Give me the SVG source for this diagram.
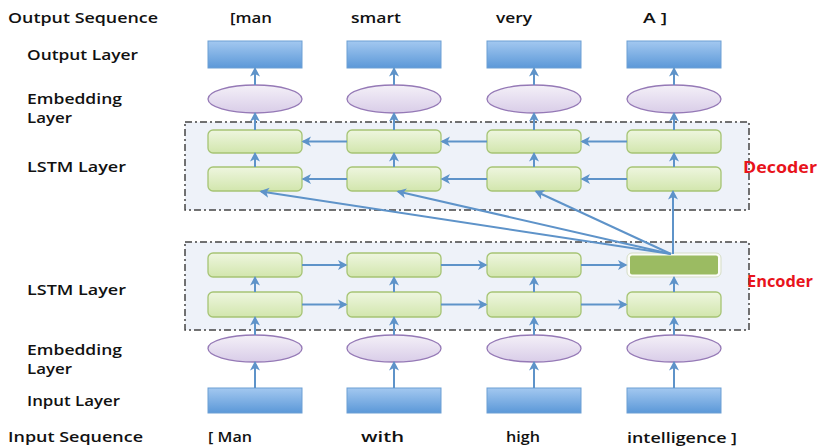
<svg xmlns="http://www.w3.org/2000/svg" width="817" height="446" viewBox="0 0 817 446">
<defs>
<linearGradient id="gBlue" x1="0" y1="0" x2="0" y2="1"><stop offset="0" stop-color="#a3c8f0"/><stop offset="1" stop-color="#5b98d8"/></linearGradient>
<linearGradient id="gPurple" x1="0" y1="0" x2="0" y2="1"><stop offset="0" stop-color="#f4f0f8"/><stop offset="1" stop-color="#d9cde8"/></linearGradient>
<linearGradient id="gGreen" x1="0" y1="0" x2="0" y2="1"><stop offset="0" stop-color="#eef6df"/><stop offset="1" stop-color="#d2e6ad"/></linearGradient>
<marker id="ah" markerUnits="userSpaceOnUse" markerWidth="11" markerHeight="11" refX="8" refY="5.5" orient="auto"><path d="M0,0.5 L9.5,5.5 L0,10.5 L2.5,5.5 z" fill="#5e93c9"/></marker>
<style>
.io{fill:url(#gBlue);stroke:#6c9fd4;stroke-width:1}
.emb{fill:url(#gPurple);stroke:#9579b6;stroke-width:1.3}
.lstm{fill:url(#gGreen);stroke:#a6c474;stroke-width:1.3}
.ctr{fill:#eef2f9;stroke:#444;stroke-width:1.5;stroke-dasharray:7,3,2,3}
.lbl{font-family:"Open Sans","DejaVu Sans",sans-serif;font-weight:600;font-size:15px;fill:#111}
.red{font-family:"Open Sans","DejaVu Sans",sans-serif;font-weight:700;font-size:15.5px;fill:#e8141c}
.c line{stroke:#5e93c9;stroke-width:2;marker-end:url(#ah)}
</style>
</defs>
<rect width="817" height="446" fill="#fff"/>
<g id="decoder-box"><rect class="ctr" x="185" y="122" width="564" height="88"/></g>
<g id="encoder-box"><rect class="ctr" x="185" y="242" width="564" height="88"/></g>

<g id="labels">
<text class="lbl" x="8" y="23" textLength="150" lengthAdjust="spacingAndGlyphs">Output Sequence</text>
<text class="lbl" x="27" y="60" textLength="111" lengthAdjust="spacingAndGlyphs">Output Layer</text>
<text class="lbl" x="27" y="104" textLength="95" lengthAdjust="spacingAndGlyphs">Embedding</text>
<text class="lbl" x="27" y="123" textLength="45" lengthAdjust="spacingAndGlyphs">Layer</text>
<text class="lbl" x="27" y="172" textLength="99" lengthAdjust="spacingAndGlyphs">LSTM Layer</text>
<text class="lbl" x="27" y="295" textLength="99" lengthAdjust="spacingAndGlyphs">LSTM Layer</text>
<text class="lbl" x="27" y="355" textLength="95" lengthAdjust="spacingAndGlyphs">Embedding</text>
<text class="lbl" x="27" y="374" textLength="45" lengthAdjust="spacingAndGlyphs">Layer</text>
<text class="lbl" x="27" y="406" textLength="93" lengthAdjust="spacingAndGlyphs">Input Layer</text>
<text class="lbl" x="8" y="442" textLength="135" lengthAdjust="spacingAndGlyphs">Input Sequence</text>
<text class="lbl" x="230" y="23" textLength="42" lengthAdjust="spacingAndGlyphs">[man</text>
<text class="lbl" x="351" y="23" textLength="50" lengthAdjust="spacingAndGlyphs">smart</text>
<text class="lbl" x="496" y="23" textLength="36" lengthAdjust="spacingAndGlyphs">very</text>
<text class="lbl" x="643" y="23" textLength="24" lengthAdjust="spacingAndGlyphs">A ]</text>
<text class="lbl" x="208" y="442" textLength="44" lengthAdjust="spacingAndGlyphs">[ Man</text>
<text class="lbl" x="361" y="442" textLength="43" lengthAdjust="spacingAndGlyphs">with</text>
<text class="lbl" x="506" y="442" textLength="34" lengthAdjust="spacingAndGlyphs">high</text>
<text class="lbl" x="627" y="442.5" textLength="110" lengthAdjust="spacingAndGlyphs">intelligence ]</text>
<text class="red" x="743" y="173" textLength="74" lengthAdjust="spacingAndGlyphs">Decoder</text>
<text class="red" x="747" y="287" textLength="66" lengthAdjust="spacingAndGlyphs">Encoder</text>
</g>

<g id="out1"><rect class="io" x="208" y="41" width="94" height="27"/></g>
<g id="out2"><rect class="io" x="347" y="41" width="94" height="27"/></g>
<g id="out3"><rect class="io" x="487" y="41" width="94" height="27"/></g>
<g id="out4"><rect class="io" x="627" y="41" width="94" height="27"/></g>

<g id="oemb1"><ellipse class="emb" cx="255" cy="99" rx="47" ry="14"/></g>
<g id="oemb2"><ellipse class="emb" cx="394" cy="99" rx="47" ry="14"/></g>
<g id="oemb3"><ellipse class="emb" cx="534" cy="99" rx="47" ry="14"/></g>
<g id="oemb4"><ellipse class="emb" cx="674" cy="99" rx="47" ry="14"/></g>

<g id="d11"><rect class="lstm" x="208" y="130" width="94" height="23" rx="5"/></g>
<g id="d12"><rect class="lstm" x="347" y="130" width="94" height="23" rx="5"/></g>
<g id="d13"><rect class="lstm" x="487" y="130" width="94" height="23" rx="5"/></g>
<g id="d14"><rect class="lstm" x="627" y="130" width="94" height="23" rx="5"/></g>
<g id="d21"><rect class="lstm" x="208" y="167" width="94" height="24" rx="5"/></g>
<g id="d22"><rect class="lstm" x="347" y="167" width="94" height="24" rx="5"/></g>
<g id="d23"><rect class="lstm" x="487" y="167" width="94" height="24" rx="5"/></g>
<g id="d24"><rect class="lstm" x="627" y="167" width="94" height="24" rx="5"/></g>

<g id="e11"><rect class="lstm" x="208" y="253" width="94" height="24" rx="5"/></g>
<g id="e12"><rect class="lstm" x="347" y="253" width="94" height="24" rx="5"/></g>
<g id="e13"><rect class="lstm" x="487" y="253" width="94" height="24" rx="5"/></g>
<g id="e14"><rect x="627" y="253" width="94" height="24" rx="5" fill="#fbfcf8" stroke="#d5ddc6" stroke-width="1"/><rect x="630" y="255.5" width="88" height="19" rx="2" fill="#9bbb62"/></g>
<g id="e21"><rect class="lstm" x="208" y="292" width="94" height="25" rx="5"/></g>
<g id="e22"><rect class="lstm" x="347" y="292" width="94" height="25" rx="5"/></g>
<g id="e23"><rect class="lstm" x="487" y="292" width="94" height="25" rx="5"/></g>
<g id="e24"><rect class="lstm" x="627" y="292" width="94" height="25" rx="5"/></g>

<g id="iemb1"><ellipse class="emb" cx="255" cy="348.5" rx="47" ry="13.5"/></g>
<g id="iemb2"><ellipse class="emb" cx="394" cy="348.5" rx="47" ry="13.5"/></g>
<g id="iemb3"><ellipse class="emb" cx="534" cy="348.5" rx="47" ry="13.5"/></g>
<g id="iemb4"><ellipse class="emb" cx="674" cy="348.5" rx="47" ry="13.5"/></g>

<g id="in1"><rect class="io" x="208" y="388" width="94" height="25"/></g>
<g id="in2"><rect class="io" x="347" y="388" width="94" height="25"/></g>
<g id="in3"><rect class="io" x="487" y="388" width="94" height="25"/></g>
<g id="in4"><rect class="io" x="627" y="388" width="94" height="25"/></g>

<g id="connectors" class="c">
<line x1="255" y1="85" x2="255" y2="68.5"/><line x1="394" y1="85" x2="394" y2="68.5"/><line x1="534" y1="85" x2="534" y2="68.5"/><line x1="674" y1="85" x2="674" y2="68.5"/>
<line x1="255" y1="130" x2="255" y2="113.5"/><line x1="394" y1="130" x2="394" y2="113.5"/><line x1="534" y1="130" x2="534" y2="113.5"/><line x1="674" y1="130" x2="674" y2="113.5"/>
<line x1="255" y1="167" x2="255" y2="153.5"/><line x1="394" y1="167" x2="394" y2="153.5"/><line x1="534" y1="167" x2="534" y2="153.5"/><line x1="674" y1="167" x2="674" y2="153.5"/>
<line x1="347" y1="141.5" x2="303" y2="141.5"/><line x1="487" y1="141.5" x2="442" y2="141.5"/><line x1="627" y1="141.5" x2="582" y2="141.5"/>
<line x1="347" y1="179" x2="303" y2="179"/><line x1="487" y1="179" x2="442" y2="179"/><line x1="627" y1="179" x2="582" y2="179"/>
<line x1="673" y1="254" x2="673" y2="191.5"/>
<line x1="671" y1="254" x2="261" y2="191.5"/>
<line x1="671" y1="254" x2="398" y2="191.5"/>
<line x1="671" y1="254" x2="536" y2="191.5"/>
<line x1="302" y1="265" x2="346" y2="265"/><line x1="441" y1="265" x2="486" y2="265"/><line x1="581" y1="265" x2="626" y2="265"/>
<line x1="302" y1="304.5" x2="346" y2="304.5"/><line x1="441" y1="304.5" x2="486" y2="304.5"/><line x1="581" y1="304.5" x2="626" y2="304.5"/>
<line x1="255" y1="292" x2="255" y2="277.5"/><line x1="394" y1="292" x2="394" y2="277.5"/><line x1="534" y1="292" x2="534" y2="277.5"/><line x1="674" y1="292" x2="674" y2="277.5"/>
<line x1="255" y1="335" x2="255" y2="317.5"/><line x1="394" y1="335" x2="394" y2="317.5"/><line x1="534" y1="335" x2="534" y2="317.5"/><line x1="674" y1="335" x2="674" y2="317.5"/>
<line x1="255" y1="388" x2="255" y2="362.5"/><line x1="394" y1="388" x2="394" y2="362.5"/><line x1="534" y1="388" x2="534" y2="362.5"/><line x1="674" y1="388" x2="674" y2="362.5"/>
</g>
</svg>
